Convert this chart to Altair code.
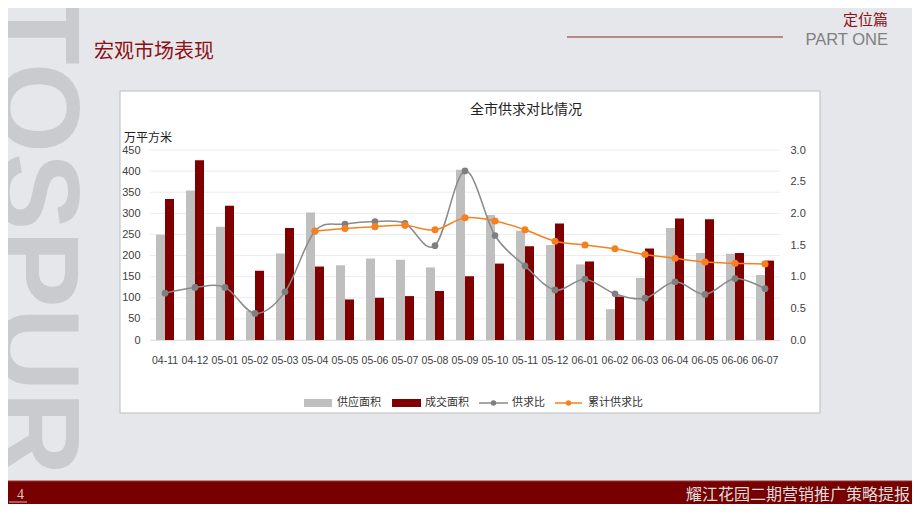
import altair as alt
import pandas as pd

# ---------------- data ----------------
cats = ["04-11", "04-12", "05-01", "05-02", "05-03", "05-04", "05-05", "05-06",
        "05-07", "05-08", "05-09", "05-10", "05-11", "05-12", "06-01", "06-02",
        "06-03", "06-04", "06-05", "06-06", "06-07"]
supply = [249, 354, 268, 69, 205, 302, 177, 193, 190, 172, 403, 296, 259, 225,
          179, 73, 147, 265, 206, 204, 154]
deal = [334, 426, 318, 164, 265, 174, 96, 100, 104, 116, 151, 181, 222, 276,
        186, 103, 217, 288, 286, 206, 188]
ratio = [0.74, 0.83, 0.83, 0.42, 0.76, 1.72, 1.83, 1.87, 1.84, 1.49, 2.67, 1.65,
         1.17, 0.79, 0.96, 0.73, 0.66, 0.92, 0.72, 0.97, 0.81]
cum_ratio = [None, None, None, None, None, 1.72, 1.76, 1.79, 1.81, 1.74, 1.93,
             1.88, 1.74, 1.56, 1.50, 1.44, 1.35, 1.29, 1.23, 1.21, 1.20]
left_ticks = [0, 50, 100, 150, 200, 250, 300, 350, 400, 450]
right_ticks = [0.0, 0.5, 1.0, 1.5, 2.0, 2.5, 3.0]
series_names = ["供应面积", "成交面积", "供求比", "累计供求比"]

bars_df = pd.DataFrame({
    "cat": cats + cats,
    "series": [series_names[0]] * len(cats) + [series_names[1]] * len(cats),
    "value": supply + deal,
})
ratio_df = pd.DataFrame({"cat": cats, "ratio": ratio})
cum_df = pd.DataFrame({
    "cat": [c for c, v in zip(cats, cum_ratio) if v is not None],
    "cum": [v for v in cum_ratio if v is not None],
})
grid_df = pd.DataFrame({"v": left_ticks})
one = pd.DataFrame({"k": [0]})

# ---------------- styles ----------------
CJK = "Noto Sans CJK SC"
LAT = "Liberation Sans"
DARKRED = "#8c1014"
GRAY_BAR = "#bfbfbf"
RED_BAR = "#800000"
GRAY_LINE = "#8a8a8a"
ORANGE = "#f7801e"
LABEL = "#404040"


def txt(text, x, y, size, color, align="left", font=CJK, weight="normal",
        baseline="middle", angle=0):
    return alt.Chart(one).mark_text(
        text=text, align=align, baseline=baseline, fontSize=size, font=font,
        color=color, fontWeight=weight, angle=angle
    ).encode(x=alt.value(x), y=alt.value(y))


def rect(x, x2, y, y2, fill, stroke=None, sw=0):
    kw = dict(color=fill)
    if stroke:
        kw.update(stroke=stroke, strokeWidth=sw)
    return alt.Chart(one).mark_rect(**kw).encode(
        x=alt.value(x), x2=alt.value(x2), y=alt.value(y), y2=alt.value(y2))


def hrule(x, x2, y, color, sw=1.0):
    return alt.Chart(one).mark_rule(color=color, strokeWidth=sw).encode(
        x=alt.value(x), x2=alt.value(x2), y=alt.value(y))


def pt(x, y, color, size=45):
    return alt.Chart(one).mark_point(filled=True, color=color, size=size, opacity=1).encode(
        x=alt.value(x), y=alt.value(y))


# ---------------- decorations (slide) ----------------
watermark = txt("TOSPUR", -152, -156, 116, "#cacbcf", font=LAT, weight="bold",
                baseline="alphabetic", angle=90)
header = txt("宏观市场表现", -56, -98, 20, DARKRED)
part_cn = txt("定位篇", 738, -130, 15, DARKRED, align="right")
part_en = txt("PART ONE", 738, -110, 16.5, "#808080", align="right", font=LAT)
part_line = hrule(417, 633, -113, "#8b2a2a", 1)
footer_band = rect(-142, 762, 331, 360, "#770000")
footer_top = hrule(-142, 762, 331, "#9a3030", 1)
footer_num = txt("4", -133, 345, 14, "#e6c4c4", font="Liberation Serif")
footer_ul = hrule(-141, -123, 352, "#d9b0b0", 1)
footer_txt = txt("耀江花园二期营销推广策略提报", 760, 345, 16, "#dedede", align="right")

panel = rect(-30, 670, -59, 263, "#ffffff", stroke="#bdbdbd", sw=1)
title = txt("全市供求对比情况", 320, -40, 14, "#222222")
unit = txt("万平方米", -26, -12, 12, "#222222")

# ---------------- chart ----------------
xscale = alt.Scale(domain=cats, paddingInner=0.4, paddingOuter=0.2)
x_enc = alt.X("cat:N", sort=cats, scale=xscale,
              axis=alt.Axis(title=None, labelAngle=0, ticks=False, domain=True,
                            domainColor="#e0e0e0", labelPadding=15,
                            labelFontSize=10.5, labelFont=LAT, labelColor=LABEL,
                            zindex=1))

grid = alt.Chart(grid_df).mark_rule(color="#ececec", strokeWidth=1).encode(
    y=alt.Y("v:Q", scale=alt.Scale(domain=[0, 450], nice=False), axis=None),
    x=alt.value(0), x2=alt.value(630))

bars = alt.Chart(bars_df).mark_bar().encode(
    x=x_enc,
    xOffset=alt.XOffset("series:N", sort=series_names[:2],
                        scale=alt.Scale(paddingInner=0, paddingOuter=0)),
    y=alt.Y("value:Q", scale=alt.Scale(domain=[0, 450], nice=False),
            axis=alt.Axis(title=None, values=left_ticks, grid=False, ticks=False,
                          domain=False, labelPadding=10, labelFontSize=11,
                          labelFont=LAT, labelColor=LABEL, zindex=1)),
    color=alt.Color("series:N",
                    scale=alt.Scale(domain=series_names[:2], range=[GRAY_BAR, RED_BAR]),
                    legend=None),
)

rscale = alt.Scale(domain=[0, 3], nice=False)
ratio_line = alt.Chart(ratio_df).mark_line(
    color=GRAY_LINE, strokeWidth=1.5, interpolate="cardinal").encode(
    x=x_enc,
    y=alt.Y("ratio:Q", scale=rscale,
            axis=alt.Axis(title=None, orient="right", values=right_ticks, format=".1f",
                          grid=False, ticks=False, domain=False, labelPadding=10,
                          labelFontSize=11, labelFont=LAT, labelColor=LABEL, zindex=1)))
ratio_pts = alt.Chart(ratio_df).mark_point(
    filled=True, color="#7f7f7f", size=45, opacity=1).encode(
    x=x_enc, y=alt.Y("ratio:Q", scale=rscale, axis=None))
cum_line = alt.Chart(cum_df).mark_line(
    color=ORANGE, strokeWidth=1.5, interpolate="cardinal").encode(
    x=x_enc, y=alt.Y("cum:Q", scale=rscale, axis=None))
cum_pts = alt.Chart(cum_df).mark_point(
    filled=True, color=ORANGE, size=50, opacity=1).encode(
    x=x_enc, y=alt.Y("cum:Q", scale=rscale, axis=None))

# ---------------- legend ----------------
LY = 253
legend_layers = [
    rect(154, 182, LY - 4, LY + 4, GRAY_BAR),
    txt(series_names[0], 187, LY, 11, "#333333"),
    rect(242, 271, LY - 4, LY + 4, RED_BAR),
    txt(series_names[1], 275, LY, 11, "#333333"),
    hrule(329, 358, LY, GRAY_LINE, 1.5),
    pt(343.5, LY, "#7f7f7f", 30),
    txt(series_names[2], 362, LY, 11, "#333333"),
    hrule(405, 432, LY, ORANGE, 1.5),
    pt(418.5, LY, ORANGE, 30),
    txt(series_names[3], 438, LY, 11, "#333333"),
]

chart = alt.layer(
    watermark, header, part_cn, part_en, part_line,
    footer_band, footer_top, footer_num, footer_ul, footer_txt,
    panel, title, unit,
    grid, bars, ratio_line, ratio_pts, cum_line, cum_pts,
    *legend_layers,
).resolve_scale(y="independent").properties(
    width=630, height=190,
    padding={"left": 142, "top": 142, "right": 132, "bottom": 164},
    autosize=alt.AutoSizeParams(type="none"),
    background="#e6e7eb",
).configure_view(stroke=None)

chart.save("out.html", embed_options={"renderer": "svg", "actions": False})
